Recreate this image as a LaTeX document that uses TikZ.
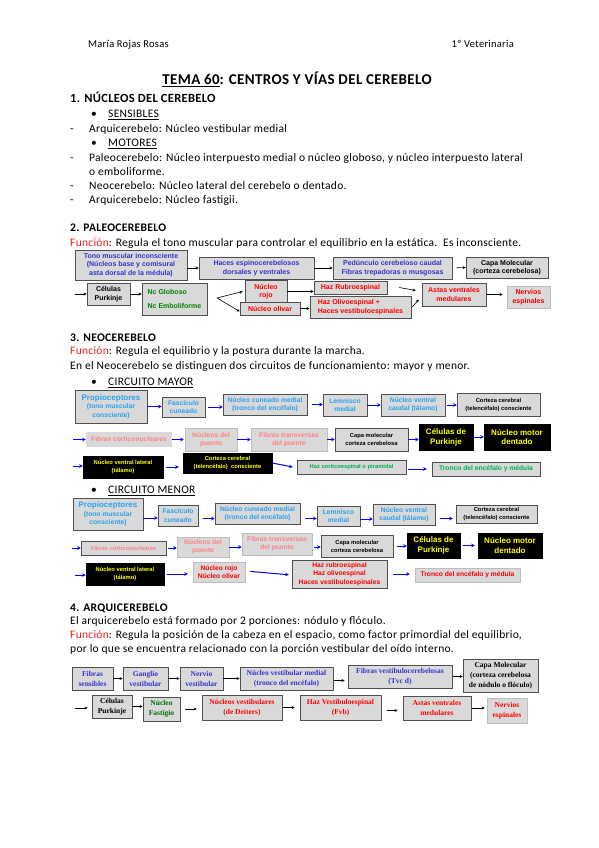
\documentclass[tikz,border=0pt]{standalone}
\usepackage{fontspec}
\setmainfont[LetterSpace=2.5]{Carlito}
\newfontfamily\arf{Liberation Sans}
\newfontfamily\tmf{Liberation Serif}
\usetikzlibrary{arrows.meta,shadows}
\definecolor{boxg}{RGB}{217,217,217}
\definecolor{bordc}{RGB}{80,80,80}
\definecolor{lbord}{RGB}{190,190,190}
\definecolor{shadc}{RGB}{110,110,110}
\definecolor{tblue}{RGB}{51,51,204}
\definecolor{tgreen}{RGB}{0,128,0}
\definecolor{tred}{RGB}{255,0,0}
\definecolor{tcyan}{RGB}{41,160,240}
\definecolor{tpink}{RGB}{255,130,130}
\definecolor{tyel}{RGB}{255,255,0}
\definecolor{tgrn}{RGB}{0,176,80}
\definecolor{arblue}{RGB}{0,0,255}
\definecolor{fred}{RGB}{240,30,30}
\definecolor{dgreen}{RGB}{0,110,0}
\begin{document}
\begin{tikzpicture}[x=1pt,y=-1pt,
  txt/.style={anchor=base west, inner sep=0pt, font=\fontsize{11.5}{13}\selectfont},
  hd/.style={txt, font=\bfseries\fontsize{11.6}{14}\selectfont},
  box/.style={fill=boxg, draw=bordc, line width=0.5pt, inner sep=0pt, align=center},
  sh/.style={drop shadow={shadow xshift=1pt, shadow yshift=-1pt, fill=shadc, opacity=1}},
  lbox/.style={box, draw=lbord},
  nbox/.style={box, draw=none},
  blk/.style={box, fill=black, draw=black, text=tyel},
  fa/.style={font=\arf\bfseries\fontsize{7}{8.4}\selectfont},
  fb/.style={font=\arf\bfseries\fontsize{6.7}{8.4}\selectfont},
  fs/.style={font=\arf\bfseries\fontsize{5.8}{8}\selectfont},
  fy/.style={font=\arf\bfseries\fontsize{8}{9.8}\selectfont},
  ft/.style={font=\tmf\bfseries\fontsize{7.5}{10}\selectfont},
  arr/.style={-{Stealth[length=3.2pt,width=3pt]}, line width=0.6pt, black},
  barr/.style={-{Stealth[length=3.5pt,width=3.5pt]}, line width=1pt, arblue}
]
\useasboundingbox[fill=white] (0,0) rectangle (599,848);

% ---------- header ----------
\node[anchor=base west, inner sep=0pt, font=\fontsize{10.5}{12}\selectfont] (hl) at (88,47.5) {María Rojas Rosas};
\node[anchor=base east, inner sep=0pt, font=\fontsize{10.5}{12}\selectfont] (hr) at (514,47.5) {1º Veterinaria};
\node[anchor=base, inner sep=0pt, font=\bfseries\fontsize{15}{17}\selectfont] (title) at (297,85) {\underline{TEMA 60}: CENTROS Y VÍAS DEL CEREBELO};

% ---------- section 1 ----------
\node[txt, font=\bfseries\fontsize{12.5}{14}\selectfont] (s1) at (70,102.5) {1. NÚCLEOS DEL CEREBELO};
\node[txt] (l1) at (91,117.5) {\makebox[17pt][l]{•}\underline{SENSIBLES}};
\node[txt] (l2) at (70,132.5) {\makebox[19pt][l]{-}Arquicerebelo: Núcleo vestibular medial};
\node[txt] (l3) at (91,146.5) {\makebox[17pt][l]{•}\underline{MOTORES}};
\node[txt] (l4) at (70,161.5) {\makebox[19pt][l]{-}Paleocerebelo: Núcleo interpuesto medial o núcleo globoso, y núcleo interpuesto lateral};
\node[txt] (l5) at (89,175.5) {o emboliforme.};
\node[txt] (l6) at (70,189.5) {\makebox[19pt][l]{-}Neocerebelo: Núcleo lateral del cerebelo o dentado.};
\node[txt] (l7) at (70,203.5) {\makebox[19pt][l]{-}Arquicerebelo: Núcleo fastigii.};

% ---------- section 2 ----------
\node[hd] (s2) at (70,231) {2. PALEOCEREBELO};
\node[txt] (f2) at (70,246.5) {{\color{fred}Función}: Regula el tono muscular para controlar el equilibrio en la estática.\ \ Es inconsciente.};

\node[box, sh, fa, text=tblue, minimum width=112, minimum height=30] (s2a) at (131,265) {Tono muscular inconsciente\\(Núcleos base y comisural\\asta dorsal de la médula)};
\node[box, sh, fa, text=tblue, minimum width=115, minimum height=22] (s2b) at (256.5,268) {Haces espinocerebelosos\\dorsales y ventrales};
\node[box, sh, fa, text=tblue, minimum width=119, minimum height=22] (s2c) at (392.5,268) {Pedúnculo cerebeloso caudal\\Fibras trepadoras o musgosas};
\node[box, sh, fa, text=black, minimum width=82, minimum height=21] (s2d) at (507,267.5) {Capa Molecular\\(corteza cerebelosa)};
\node[box, sh, fa, text=black, minimum width=43, minimum height=22] (s2e) at (108.5,294) {Células\\Purkinje};
\node[box, sh, fa, text=tgreen, align=left, minimum width=65, minimum height=32] (s2f) at (174.5,299) {Nc Globoso\\[5pt]Nc Emboliforme};
\node[box, sh, fa, text=tred, minimum width=42, minimum height=23] (s2g) at (266,291.5) {Núcleo\\rojo};
\node[box, sh, fa, text=tred, minimum width=60, minimum height=13] (s2h) at (270,308.5) {Núcleo olivar};
\node[box, sh, fa, text=tred, minimum width=73, minimum height=13] (s2i) at (350.5,287.5) {Haz Rubroespinal};
\node[box, sh, fa, text=tred, align=left, minimum width=101, minimum height=22] (s2j) at (360.5,307) {Haz Olivoespinal +\\Haces vestibuloespinales};
\node[box, sh, fa, text=tred, minimum width=64, minimum height=23] (s2k) at (454,294.5) {Astas ventrales\\medulares};
\node[lbox, fa, text=tred, minimum width=43, minimum height=22] (s2l) at (528.5,297) {Nervios\\espinales};

\coordinate (s2in) at (75,294);
\coordinate (s2fork) at (217,298);
\draw[arr] (s2a.east |- s2b.west) -- (s2b.west);
\draw[arr] (s2b.east) -- (s2c.west);
\draw[arr, shorten <=4pt] (s2c.east) -- (s2d.west);
\draw[arr] (s2in) -- (s2e.west);
\draw[arr] (s2e.east) -- (s2f.west |- s2e.east);
\draw[arr] (s2fork) -- ([xshift=-2pt]s2g.west);
\draw[arr] (s2fork) -- ([yshift=-3pt]s2h.west);
\draw[arr] (s2g.east) -- (s2i.west |- s2g.east);
\draw[arr] (s2h.east) -- (s2j.west |- s2h.east);
\draw[arr] ([xshift=12pt]s2i.east) -- ([xshift=-6pt,yshift=4pt]s2k.west);
\draw[arr] ([xshift=1pt]s2j.east) -- ([xshift=-3pt,yshift=-5pt]s2k.west);
\draw[arr] (s2k.east) -- ([xshift=-4pt]s2l.west |- s2k.east);

% ---------- section 3 ----------
\node[hd] (s3) at (70,341) {3. NEOCEREBELO};
\node[txt] (f3) at (70,354.5) {{\color{fred}Función}: Regula el equilibrio y la postura durante la marcha.};
\node[txt] (e3) at (70,369.5) {En el Neocerebelo se distinguen dos circuitos de funcionamiento: mayor y menor.};
\node[txt] (cm) at (91,385.5) {\makebox[17pt][l]{•}\underline{CIRCUITO MAYOR}};

% circuito mayor row 1
\node[box, sh, fb, text=tcyan, minimum width=72, minimum height=33] (m1) at (111,406.5) {{\fontsize{8}{9}\selectfont Propioceptores}\\(tono muscular\\consciente)};
\node[box, sh, fb, text=tcyan, minimum width=43, minimum height=20] (m2) at (183.5,407) {Fascículo\\cuneado};
\node[box, sh, fb, text=tcyan, minimum width=84, minimum height=21] (m3) at (265,404.5) {Núcleo cuneado medial\\(tronco del encéfalo)};
\node[box, sh, fb, text=tcyan, minimum width=44, minimum height=22] (m4) at (345,405) {Lemnisco\\medial};
\node[box, sh, fb, text=tcyan, minimum width=64, minimum height=22] (m5) at (413,405) {Núcleo ventral\\caudal (tálamo)};
\node[box, sh, fs, text=black, minimum width=83, minimum height=23] (m6) at (498.5,404.5) {Corteza cerebral\\(telencéfalo) consciente};
\draw[barr] (m1.east) -- (m2.west |- m1.east);
\draw[barr, shorten <=3pt] (m2.east) -- (m3.west |- m2.east);
\draw[barr, shorten <=5pt] (m3.east) -- (m4.west |- m3.east);
\draw[barr] (m4.east) -- (m5.west |- m4.east);
\draw[barr, shorten <=2pt] (m5.east) -- (m6.west |- m5.east);

% row 2
\node[nbox, fb, text=tpink, minimum width=86, minimum height=15] (m7) at (129,439.5) {Fibras corticonucleares};
\node[lbox, fb, text=tpink, minimum width=52, minimum height=23] (m8) at (211,439.5) {Núcleos del\\puente};
\node[lbox, fb, text=tpink, minimum width=76, minimum height=23] (m9) at (289,439.5) {Fibras transversas\\del puente};
\node[box, sh, fs, text=black, minimum width=73, minimum height=23] (m10) at (371.5,439.5) {Capa molecular\\corteza cerebelosa};
\node[blk, sh, fy, minimum width=54, minimum height=26] (m11) at (446,437) {Células de\\Purkinje};
\node[blk, sh, fy, minimum width=66, minimum height=26] (m12) at (517,437) {Núcleo motor\\dentado};
\coordinate (m7in) at (73,439.5);
\draw[barr] (m7in) -- (m7.west);
\draw[barr] (m7.east) -- ([xshift=-1pt]m8.west |- m7.east);
\draw[barr] (m8.east) -- (m9.west |- m8.east);
\draw[barr] (m9.east) -- (m10.west |- m9.east);
\draw[barr] (m10.east) -- (m11.west |- m10.east);
\draw[barr] (m11.east) -- (m12.west |- m11.east);

% row 3
\node[blk, sh, fs, minimum width=80, minimum height=22] (m13) at (123,467) {Núcleo ventral lateral\\(tálamo)};
\node[blk, sh, fs, minimum width=89, minimum height=20] (m14) at (227.5,463) {Corteza cerebral\\(telencéfalo)\ \ consciente};
\node[box, sh, fs, text=tgrn, minimum width=109, minimum height=14] (m15) at (351.5,467) {Haz corticoespinal o piramidal};
\node[box, sh, fb, text=tgrn, minimum width=108, minimum height=14] (m16) at (486,469) {Tronco del encéfalo y médula};
\coordinate (m13in) at (73,466);
\draw[barr] (m13in) -- (m13.west |- m13in);
\draw[barr, shorten <=3pt, shorten >=4pt] (m13.east) -- (m14.west |- m13.east);
\draw[barr] (m14.east) -- ([xshift=-4pt]m15.west);
\draw[barr, shorten <=2pt, shorten >=5pt] ([yshift=-2pt]m15.east) -- ([yshift=-2pt]m16.west |- m15.east);

% circuito menor
\node[txt] (cn) at (91,493.5) {\makebox[17pt][l]{•}\underline{CIRCUITO MENOR}};
\node[box, sh, fb, text=tcyan, minimum width=70, minimum height=32] (n1) at (108,514) {{\fontsize{8}{9}\selectfont Propioceptores}\\(tono muscular\\consciente)};
\node[box, sh, fb, text=tcyan, minimum width=40, minimum height=21] (n2) at (178,515.5) {Fascículo\\cuneado};
\node[box, sh, fb, text=tcyan, minimum width=85, minimum height=21] (n3) at (257.5,513.5) {Núcleo cuneado medial\\(tronco del encéfalo)};
\node[box, sh, fb, text=tcyan, minimum width=43, minimum height=20] (n4) at (338.5,516) {Lemnisco\\medial};
\node[box, sh, fb, text=tcyan, minimum width=62, minimum height=21] (n5) at (404,514.5) {Núcleo ventral\\caudal (tálamo)};
\node[box, sh, fs, text=black, minimum width=81, minimum height=18] (n6) at (496.5,514) {Corteza cerebral\\(telencéfalo) consciente};
\draw[barr] ([yshift=-4pt]n1.east) -- ([yshift=-4pt]n2.west |- n1.east);
\draw[barr, shorten <=5pt] ([yshift=-3pt]n2.east) -- ([yshift=-3pt]n3.west |- n2.east);
\draw[barr, shorten <=5pt] ([yshift=-5pt]n3.east) -- ([yshift=-5pt]n4.west |- n3.east);
\draw[barr] ([yshift=-3pt]n4.east) -- ([yshift=-3pt]n5.west |- n4.east);
\draw[barr, shorten <=5pt, shorten >=3pt] ([yshift=-4pt]n5.east) -- ([yshift=-4pt]n6.west |- n5.east);

\node[box, sh, fs, text=tpink, minimum width=85, minimum height=14] (n7) at (123.5,548) {Fibras corticonucleares};
\node[lbox, fb, text=tpink, minimum width=52, minimum height=20] (n8) at (203,547) {Núcleos del\\puente};
\node[lbox, fb, text=tpink, minimum width=70, minimum height=22] (n9) at (277,544) {Fibras transversas\\del puente};
\node[box, sh, fs, text=black, minimum width=72, minimum height=22] (n10) at (357,546) {Capa molecular\\corteza cerebelosa};
\node[blk, sh, fy, minimum width=53, minimum height=25] (n11) at (433.5,545.5) {Células de\\Purkinje};
\node[blk, sh, fy, minimum width=64, minimum height=25] (n12) at (510,545.5) {Núcleo motor\\dentado};
\coordinate (n7in) at (72,548);
\draw[barr] (n7in) -- (n7.west);
\draw[barr, shorten <=2pt] (n7.east) -- (n8.west |- n7.east);
\draw[barr] (n8.east) -- (n9.west |- n8.east);
\draw[barr, shorten <=2pt] ([yshift=-3pt]n9.east) -- ([yshift=-3pt]n10.west |- n9.east);
\draw[barr, shorten <=4pt] (n10.east) -- (n11.west |- n10.east);
\draw[barr, shorten <=3pt, shorten >=3pt] (n11.east) -- (n12.west |- n11.east);

\node[blk, sh, fs, minimum width=78, minimum height=22] (n13) at (125,574) {Núcleo ventral lateral\\(tálamo)};
\node[lbox, fb, text=tred, minimum width=52, minimum height=20] (n14) at (219,572) {Núcleo rojo\\Núcleo olivar};
\node[box, sh, fb, text=tred, minimum width=95, minimum height=28] (n15) at (339.5,574) {Haz rubroespinal\\Haz olivoespinal\\Haces vestibuloespinales};
\node[box, fb, draw=lbord, text=tred, minimum width=105, minimum height=14] (n16) at (467.5,575) {Tronco del encéfalo y médula};
\coordinate (n13in) at (75,575);
\draw[barr] (n13in) -- (n13.west |- n13in);
\draw[barr, shorten <=3pt, shorten >=5pt] (n13.east) -- (n14.west |- n13.east);
\draw[barr, shorten <=5pt, shorten >=3pt] ([yshift=1pt]n14.east) -- ([yshift=-1pt]n15.west);
\draw[barr, shorten <=6pt, shorten >=5pt] (n15.east) -- (n16.west |- n15.east);

% ---------- section 4 ----------
\node[hd] (s4) at (70,611) {4. ARQUICEREBELO};
\node[txt] (p4a) at (70,624.5) {El arquicerebelo está formado por 2 porciones: nódulo y flóculo.};
\node[txt] (p4b) at (70,638.5) {{\color{fred}Función}: Regula la posición de la cabeza en el espacio, como factor primordial del equilibrio,};
\node[txt] (p4c) at (70,652.5) {por lo que se encuentra relacionado con la porción vestibular del oído interno.};

\node[box, sh, ft, text=tblue, minimum width=41, minimum height=23] (a1) at (92.5,678.5) {Fibras\\sensibles};
\node[box, sh, ft, text=tblue, minimum width=45, minimum height=23] (a2) at (145.5,678.5) {Ganglio\\vestibular};
\node[box, sh, ft, text=tblue, minimum width=43, minimum height=23] (a3) at (201.5,678.5) {Nervio\\vestibular};
\node[box, sh, ft, text=tblue, minimum width=93, minimum height=23] (a4) at (286.5,678.5) {Núcleo vestibular medial\\(tronco del encéfalo)};
\node[box, sh, ft, text=tblue, minimum width=104, minimum height=23] (a5) at (400,676.5) {Fibras vestibulocerebelosas\\(Tvc d)};
\node[box, sh, ft, text=black, minimum width=75, minimum height=33] (a6) at (500.5,675.5) {Capa Molecular\\(corteza cerebelosa\\de nódulo o flóculo)};
\draw[arr] (a1.east) -- (a2.west |- a1.east);
\draw[arr] (a2.east) -- (a3.west |- a2.east);
\draw[arr] (a3.east) -- (a4.west |- a3.east);
\draw[arr, shorten <=1pt, shorten >=3pt] ([yshift=-2pt]a4.east) -- ([yshift=-2pt]a5.west |- a4.east);
\draw[arr, shorten <=1pt] (a5.east) -- (a6.west |- a5.east);

\node[box, sh, ft, text=black, minimum width=40, minimum height=23] (a7) at (112,706.5) {Células\\Purkinje};
\node[box, sh, ft, text=dgreen, minimum width=37, minimum height=24] (a8) at (161.5,709) {Núcleo\\Fastigio};
\node[box, sh, ft, text=tred, minimum width=80, minimum height=25] (a9) at (242,707.5) {Núcleos vestibulares\\(de Deiters)};
\node[box, sh, ft, text=tred, minimum width=81, minimum height=25] (a10) at (340.5,707.5) {Haz Vestibuloespinal\\(Fvb)};
\node[box, sh, ft, text=tred, minimum width=68, minimum height=24] (a11) at (437,708) {Astas ventrales\\medulares};
\node[lbox, ft, text=tred, minimum width=40, minimum height=25] (a12) at (507,710.5) {Nervios\\espinales};
\coordinate (a7in) at (75,708);
\draw[arr, shorten >=4pt] (a7in) -- (a7.west |- a7in);
\draw[arr] (a7.east) -- (a8.west |- a7.east);
\draw[arr, shorten <=5pt, shorten >=5pt] (a8.east) -- (a9.west |- a8.east);
\draw[arr, shorten <=1pt, shorten >=5pt] (a9.east) -- (a10.west |- a9.east);
\draw[arr, shorten <=6pt, shorten >=5pt] ([yshift=-3pt]a10.east) -- ([yshift=-3pt]a11.west |- a10.east);
\draw[arr, shorten <=1pt, shorten >=2pt] (a11.east) -- (a12.west |- a11.east);

\end{tikzpicture}
\end{document}
